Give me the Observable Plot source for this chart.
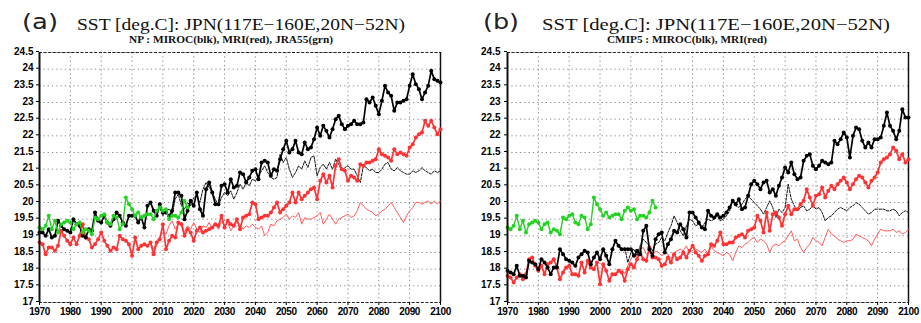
<!DOCTYPE html>
<html><head><meta charset="utf-8">
<script src="https://cdn.jsdelivr.net/npm/d3@7"></script>
<script src="https://cdn.jsdelivr.net/npm/@observablehq/plot@0.6"></script>
<style>
body{margin:0;background:#fff;width:921px;height:323px;overflow:hidden;position:relative}
#a{position:absolute;left:0;top:0}
#b{position:absolute;left:460px;top:0}
</style></head><body><div id="a"></div><div id="b"></div>
<script>
const xTicks=[1970,1980,1990,2000,2010,2020,2030,2040,2050,2060,2070,2080,2090,2100];
const yTicks=[17,17.5,18,18.5,19,19.5,20,20.5,21,21.5,22,22.5,23,23.5,24,24.5];
const startAll=1970, startRcp26=2006, startJra=1970;

// Panel (a): NP downscaled
const mirocA85=[19.1,19.1,19.0,19.2,18.95,19.0,19.45,19.3,19.2,19.15,
19.1,19.5,19.35,19.3,19.0,18.95,19.2,19.15,19.7,19.45,
19.4,19.6,19.4,19.3,19.5,19.7,19.6,19.4,19.3,19.6,
19.6,19.6,19.4,19.55,19.25,19.9,20.0,19.75,19.6,19.95,
19.7,19.7,19.6,19.75,20.3,20.3,20.2,19.5,19.75,20.05,
19.9,20.3,19.8,19.6,20.4,20.6,20.3,19.95,19.95,20.5,
20.55,20.3,20.7,20.45,20.5,20.9,20.85,20.6,20.75,20.95,
21.0,20.7,21.2,21.25,21.2,20.8,21.0,20.95,21.3,21.6,
21.85,21.5,21.6,21.85,21.5,21.45,21.8,21.6,21.65,21.9,
22.25,22.0,22.3,22.15,21.95,22.2,22.5,22.6,22.35,22.2,
22.3,22.35,22.45,22.35,22.35,22.4,23.1,23.0,23.15,22.9,
22.65,23.05,23.5,23.3,23.2,22.75,23.0,23.0,23.05,23.1,
23.5,23.85,23.55,23.4,23.1,23.3,23.5,23.95,23.7,23.65,
23.6];
const mirocA26=[20.0,19.8,19.7,19.85,19.6,19.75,19.8,19.65,20.1,20.25,
19.9,19.8,20.0,19.9,20.15,20.2,20.0,20.4,20.6,20.45,
20.3,20.1,19.9,20.15,20.3,20.2,20.35,20.1,20.3,20.55,
20.4,20.6,20.5,20.7,20.65,20.8,20.95,21.1,20.9,20.75,
20.7,20.75,21.45,21.2,21.35,21.0,20.75,20.9,21.1,21.0,
21.25,21.05,21.35,21.4,20.8,21.05,21.15,21.0,21.2,21.0,
21.3,21.15,20.95,21.05,21.1,21.0,21.0,20.8,20.6,21.1,
21.05,20.95,21.0,20.9,20.9,21.0,21.15,21.2,21.0,20.95,
21.05,20.95,20.9,20.85,20.85,20.95,20.9,20.95,21.05,20.95,
20.9,20.85,20.95,20.9,20.95];
const mriA85=[18.8,18.75,18.45,18.65,18.65,18.55,18.7,19.15,19.0,18.85,
18.75,18.95,18.75,19.0,19.35,18.95,18.9,18.65,18.75,18.9,
19.1,18.85,18.7,18.55,18.65,18.6,19.0,18.9,18.85,18.75,
18.4,18.95,18.6,18.7,18.75,18.7,18.8,18.45,18.8,18.9,
19.35,18.6,18.85,19.0,18.95,19.4,19.35,19.0,19.2,19.1,
18.85,19.15,19.25,19.1,19.15,19.2,19.25,19.35,19.3,19.6,
19.25,19.45,19.35,19.3,19.5,19.2,19.55,19.6,19.65,20.0,
19.95,19.5,19.55,19.6,19.6,19.7,19.85,20.0,19.7,19.8,
19.9,20.0,20.3,20.0,20.3,20.1,20.2,20.3,20.4,20.45,
20.1,20.65,20.85,20.6,20.8,20.45,21.1,21.3,21.0,20.95,
20.65,20.8,20.75,20.65,21.15,21.1,21.2,21.2,21.25,21.3,
21.6,21.45,21.4,21.35,21.25,21.6,21.45,21.5,21.45,21.4,
21.65,21.75,21.95,22.05,22.1,22.45,22.3,22.45,22.25,22.05,
22.2];
const mriA26=[18.8,18.6,18.85,18.95,19.1,19.05,19.3,19.45,19.2,19.35,
19.4,19.1,19.3,19.2,19.4,19.2,19.1,19.3,19.25,19.4,
19.2,19.35,19.2,19.45,19.3,19.4,19.15,19.3,19.4,19.35,
19.2,19.3,19.25,19.35,19.25,19.2,19.3,19.0,19.1,19.35,
19.3,19.45,19.5,19.55,19.65,19.5,19.6,19.55,19.7,19.35,
19.55,19.5,19.5,19.55,19.6,19.7,19.35,19.5,19.65,19.5,
19.35,19.5,19.55,19.6,19.65,19.55,19.6,19.75,20.0,19.9,
19.8,19.75,19.7,19.6,19.65,19.75,19.8,19.9,20.0,19.85,
19.7,19.55,19.4,19.6,19.75,19.85,20.0,20.0,19.95,20.0,
20.05,19.95,20.05,19.95,20.05];
// JRA55 reanalysis (both panels)
const jra55=[19.25,19.2,19.3,19.6,19.2,19.45,19.1,19.35,19.4,19.45,
19.4,19.2,19.35,19.4,19.1,19.2,19.15,19.05,19.55,19.5,
19.6,19.65,19.4,19.35,19.6,19.55,19.2,19.35,20.15,19.95,
19.8,19.6,19.7,19.55,19.6,19.65,19.65,19.5,19.75,19.85,
19.75,19.8,19.5,19.6,19.6,19.55,19.7,20.05,19.85];

// Panel (b): CMIP5
const mirocB85=[17.95,17.9,17.85,18.1,17.8,17.8,17.75,18.25,18.2,18.15,
18.0,18.3,18.2,18.05,17.85,18.05,18.05,18.6,18.45,18.3,
18.25,18.2,18.1,18.35,18.45,18.55,18.5,18.15,18.35,18.5,
18.3,18.6,18.4,18.15,18.6,18.85,18.7,18.6,18.6,18.6,
18.6,18.4,18.55,18.45,19.15,19.3,18.6,18.4,18.9,19.05,
19.1,18.5,18.75,18.9,19.15,19.1,19.35,19.2,18.95,19.7,
19.7,19.55,19.4,19.25,19.2,19.75,19.6,19.55,19.65,19.55,
19.6,19.7,19.85,20.05,19.95,20.1,19.8,19.85,20.2,20.55,
20.65,20.55,20.4,20.6,20.65,20.3,20.4,20.2,20.5,20.75,
21.05,20.9,21.2,20.85,20.7,20.75,21.25,21.4,21.45,21.1,
21.0,21.1,21.25,21.2,21.15,21.2,21.85,21.75,21.9,22.1,
21.95,21.35,22.0,22.25,22.2,21.85,21.65,21.8,21.65,21.9,
21.9,21.95,22.3,22.7,22.3,22.15,21.9,22.15,22.8,22.55,
22.55];
const mirocB26=[18.7,18.55,18.65,18.2,18.5,18.6,18.4,18.7,18.9,18.8,
18.7,18.55,18.75,18.8,18.95,18.85,19.1,19.3,19.6,19.4,
19.15,19.0,19.3,19.5,19.45,19.3,19.35,19.25,19.4,19.5,
19.45,19.5,19.6,19.45,19.5,19.6,19.75,20.05,19.9,19.85,
19.95,20.1,20.2,20.1,20.0,19.9,19.8,19.65,19.85,20.05,
19.85,19.55,19.8,19.7,19.85,20.55,20.1,19.9,19.75,19.85,
19.9,19.75,19.8,19.9,19.8,19.85,19.7,19.45,19.55,19.6,
19.7,19.8,19.85,19.8,19.75,19.85,19.9,20.0,19.95,19.85,
19.75,19.65,19.7,19.8,19.8,19.8,19.8,19.75,19.75,19.8,
19.75,19.6,19.7,19.75,19.7];
const mriB85=[17.8,17.75,17.6,17.75,17.85,17.7,17.85,18.3,18.35,18.1,
17.95,18.1,17.85,18.15,18.2,18.3,18.05,17.7,17.9,18.05,
18.1,17.85,17.85,17.8,18.2,17.9,18.25,18.05,18.0,18.2,
17.55,18.15,17.95,17.65,17.85,17.85,17.95,17.9,17.65,18.0,
18.15,18.05,18.3,18.5,18.3,18.25,18.65,18.35,18.35,18.3,
18.1,18.15,18.35,18.2,18.45,18.3,18.35,18.5,18.35,18.55,
18.7,18.5,18.4,18.25,18.4,18.45,18.75,18.7,18.85,19.1,
18.75,18.75,18.8,18.8,18.95,19.0,19.05,18.95,19.15,19.2,
19.25,19.6,19.45,19.1,19.7,19.15,19.65,19.7,19.55,19.3,
19.65,19.9,19.65,19.8,19.8,19.95,20.05,20.4,20.15,19.9,
20.2,20.25,20.45,20.15,20.35,20.5,20.4,20.55,20.65,20.75,
20.6,20.4,20.55,20.7,20.8,20.75,20.6,20.45,20.65,20.75,
20.9,21.2,21.3,21.35,21.45,21.65,21.55,21.3,21.45,21.2,
21.3];
const mriB26=[17.95,18.0,17.85,18.1,18.3,18.45,18.35,18.6,18.65,18.45,
18.5,18.4,18.55,18.5,18.4,18.5,18.45,18.3,18.5,18.55,
18.6,18.55,18.7,18.5,18.75,18.6,18.55,18.5,18.6,18.45,
18.7,18.55,18.5,18.45,18.4,18.5,18.45,18.25,18.5,18.7,
18.65,18.75,18.8,18.9,18.95,18.8,18.9,18.85,18.75,18.5,
18.7,18.75,18.7,18.8,18.85,19.0,19.15,18.85,18.9,18.65,
18.5,18.65,18.75,18.95,18.85,18.8,18.7,18.95,19.2,19.05,
19.0,18.9,18.85,18.8,18.85,18.85,18.9,19.05,19.0,18.95,
18.9,18.85,18.7,18.9,19.05,19.2,19.15,19.15,19.15,19.2,
19.1,19.15,19.05,19.1,19.2];

const mainTitle="SST [deg.C]: JPN(117E\u2212160E,20N\u221252N)";
const subA="NP : MIROC(blk), MRI(red), JRA55(grn)";
const subB="CMIP5 : MIROC(blk), MRI(red)";

const BLACK="#000", RED="#ff3333", RED_THIN="#ff5c5c", GREEN="#22d322";

function rows(arr,start){return arr.map((v,i)=>({year:start+i,value:v}));}

function panel(el,cfg){
  const k85=rows(cfg.k85,startAll), k26=rows(cfg.k26,startRcp26);
  const r85=rows(cfg.r85,startAll), r26=rows(cfg.r26,startRcp26);
  const jr=rows(jra55,startJra);
  const svg=Plot.plot({
    width:cfg.w,height:323,marginTop:52,marginBottom:21,marginLeft:cfg.ml,marginRight:cfg.mr,
    x:{domain:[1970,2100],axis:null},
    y:{domain:[17,24.5],axis:null},
    style:{fontFamily:"'Liberation Sans',Arial,sans-serif",background:"#fff",color:"#000",overflow:"visible"},
    marks:[
      Plot.gridX(xTicks,{stroke:"#8a8a8a",strokeOpacity:1,strokeWidth:1,strokeDasharray:"1.3,3"}),
      Plot.gridY(yTicks,{stroke:"#8a8a8a",strokeOpacity:1,strokeWidth:1,strokeDasharray:"1.3,3"}),
      Plot.ruleY([24.5,17],{stroke:"#222",strokeWidth:1.2,strokeDasharray:"3,1.6"}),
      Plot.ruleX([2100],{stroke:"#111",strokeWidth:1.5}),
      Plot.lineY(r26,{x:"year",y:"value",stroke:RED_THIN,strokeWidth:1}),
      Plot.lineY(k26,{x:"year",y:"value",stroke:"#111",strokeWidth:1,strokeDasharray:"2.5,1.3"}),
      Plot.lineY(r85,{x:"year",y:"value",stroke:RED,strokeWidth:1.7}),
      Plot.dot(r85,{x:"year",y:"value",fill:RED,stroke:null,r:2}),
      Plot.lineY(k85,{x:"year",y:"value",stroke:BLACK,strokeWidth:1.7}),
      Plot.dot(k85,{x:"year",y:"value",fill:BLACK,stroke:null,r:2}),
      Plot.lineY(jr,{x:"year",y:"value",stroke:GREEN,strokeWidth:1.4}),
      Plot.dot(jr,{x:"year",y:"value",fill:GREEN,stroke:null,r:2}),
      Plot.ruleX([1970],{stroke:"#111",strokeWidth:2}),
      Plot.axisY(yTicks,{anchor:"left",tickSize:3,tickPadding:cfg.ypad,fontSize:10,fontWeight:"bold",dy:-1,tickFormat:d=>String(d),label:null}),
      Plot.axisX(xTicks,{anchor:"bottom",tickSize:3,tickPadding:2.5,fontSize:10,fontWeight:"bold",tickFormat:d=>String(d),label:null})
    ]
  });
  const s=d3.select(svg);
  s.selectAll("g[aria-label='x-axis tick label']").style("letter-spacing","-0.4px");
  s.append("text").attr("x",cfg.lx).attr("y",29).attr("text-anchor","start").attr("font-family","'DejaVu Sans',sans-serif")
    .attr("font-size",22).attr("textLength",36).attr("lengthAdjust","spacingAndGlyphs").attr("fill","#222").text(cfg.label);
  s.append("text").attr("x",cfg.tx).attr("y",29.5).attr("text-anchor","start").attr("font-family","'Liberation Serif',serif")
    .attr("font-size",17.5).attr("textLength",cfg.tl).attr("lengthAdjust","spacingAndGlyphs").attr("fill","#111").text(mainTitle);
  s.append("text").attr("x",cfg.sx).attr("y",43).attr("text-anchor","start").attr("font-family","'Liberation Serif',serif").attr("font-weight","bold")
    .attr("font-size",10.5).attr("textLength",cfg.sl).attr("lengthAdjust","spacingAndGlyphs").attr("fill","#111").text(cfg.sub);
  el.appendChild(svg);
}

panel(document.getElementById("a"),{w:460,ml:39,mr:20,ypad:3,label:"(a)",sub:subA,
  k85:mirocA85,k26:mirocA26,r85:mriA85,r26:mriA26,lx:22,tx:77,tl:328,sx:129,sl:204});
panel(document.getElementById("b"),{w:461,ml:47,mr:13,ypad:4,label:"(b)",sub:subB,
  k85:mirocB85,k26:mirocB26,r85:mriB85,r26:mriB26,lx:23,tx:82,tl:348,sx:147,sl:160});
</script></body></html>
